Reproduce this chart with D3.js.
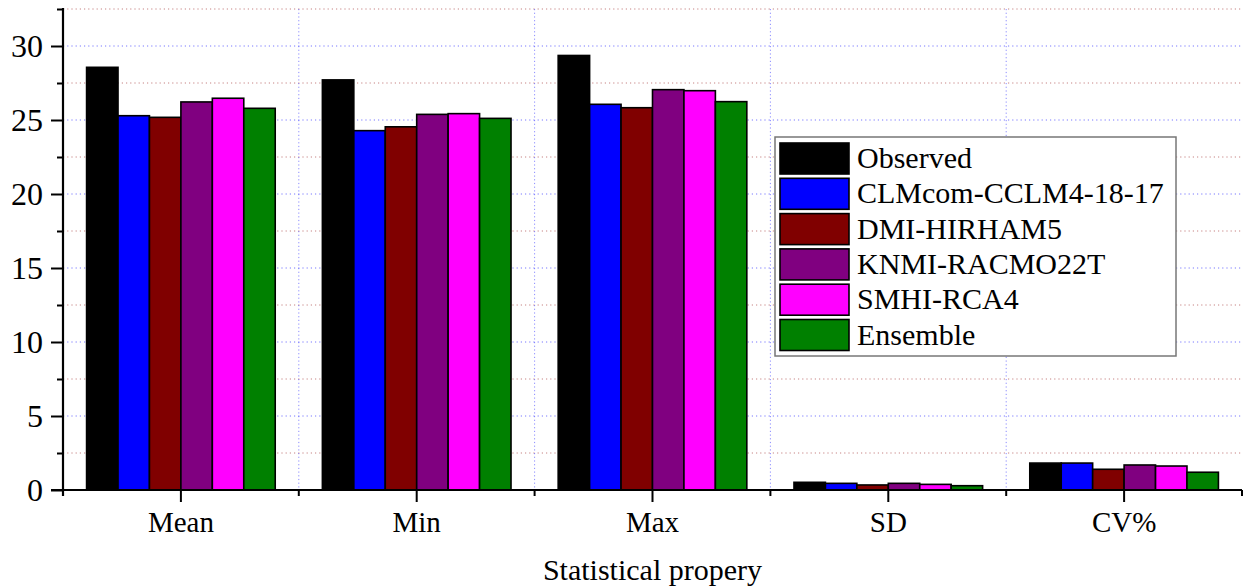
<!DOCTYPE html>
<html>
<head>
<meta charset="utf-8">
<script src="https://cdn.jsdelivr.net/npm/d3@7"></script>
<style>
  html, body { margin: 0; padding: 0; background: #ffffff; }
  svg { display: block; }
</style>
</head>
<body>
<svg id="chart" width="1245" height="588"></svg>
<script>
// Statistical properties of each model run
const categories = ["Mean", "Min", "Max", "SD", "CV%"];
const seriesNames = ["Observed", "CLMcom-CCLM4-18-17", "DMI-HIRHAM5", "KNMI-RACMO22T", "SMHI-RCA4", "Ensemble"];
const seriesColors = ["#000000", "#0000ff", "#800000", "#800080", "#ff00ff", "#008000"];

const observed = [28.56, 27.71, 29.36, 0.52, 1.82];
const clmcom   = [25.29, 24.28, 26.06, 0.45, 1.82];
const dmi      = [25.18, 24.54, 25.83, 0.34, 1.40];
const knmi     = [26.22, 25.38, 27.05, 0.45, 1.69];
const smhi     = [26.47, 25.43, 26.98, 0.38, 1.62];
const ensemble = [25.79, 25.11, 26.24, 0.29, 1.20];

const yMajorTicks = [0, 5, 10, 15, 20, 25, 30];
const yMinorTicks = [2.5, 7.5, 12.5, 17.5, 22.5, 27.5, 32.5];
const xAxisTitle = "Statistical propery";

const seriesValues = [observed, clmcom, dmi, knmi, smhi, ensemble];
const FONT = "'Liberation Serif', 'Times New Roman', serif";

const svg = d3.select("#chart");
const plotLeft = 63, plotRight = 1242, plotTop = 9, plotBottom = 490;

const x = d3.scaleBand().domain(categories).range([plotLeft, plotRight]).paddingInner(0).paddingOuter(0);
const xInner = d3.scaleBand().domain(seriesNames)
  .range([x.bandwidth() * 0.1, x.bandwidth() * 0.9]).padding(0);
const y = d3.scaleLinear().domain([0, 32.5]).range([plotBottom, plotTop]);

// Grid lines
const grid = svg.append("g");
grid.selectAll("line.hmin").data(yMinorTicks).join("line")
  .attr("x1", plotLeft).attr("x2", plotRight)
  .attr("y1", d => y(d)).attr("y2", d => y(d))
  .attr("stroke", "#a03030").attr("stroke-opacity", 0.6)
  .attr("stroke-width", 1).attr("stroke-dasharray", "1.2,3");
grid.selectAll("line.hmaj").data(yMajorTicks.filter(d => d > 0)).join("line")
  .attr("x1", plotLeft).attr("x2", plotRight)
  .attr("y1", d => y(d)).attr("y2", d => y(d))
  .attr("stroke", "#4040ff").attr("stroke-opacity", 0.7)
  .attr("stroke-width", 1).attr("stroke-dasharray", "1.2,3");
const boundaries = categories.slice(1).map(c => x(c));
grid.selectAll("line.v").data(boundaries).join("line")
  .attr("x1", d => d).attr("x2", d => d)
  .attr("y1", y(32.5)).attr("y2", plotBottom)
  .attr("stroke", "#4040ff").attr("stroke-opacity", 0.6)
  .attr("stroke-width", 1).attr("stroke-dasharray", "1.2,2.5");

// Bars
const groups = svg.append("g").selectAll("g").data(categories).join("g")
  .attr("transform", c => `translate(${x(c)},0)`);
groups.selectAll("rect").data((c, ci) => seriesNames.map((s, si) => ({ s, si, v: seriesValues[si][ci] })))
  .join("rect")
  .attr("x", d => xInner(d.s))
  .attr("width", xInner.bandwidth())
  .attr("y", d => y(d.v))
  .attr("height", d => plotBottom - y(d.v))
  .attr("fill", d => seriesColors[d.si])
  .attr("stroke", "#000").attr("stroke-width", 1.6);

// Y axis
const yAxis = svg.append("g").attr("transform", `translate(${plotLeft},0)`);
yAxis.call(d3.axisLeft(y).tickValues(yMajorTicks).tickSize(12).tickPadding(8).tickFormat(d3.format("d")));
yAxis.attr("font-family", FONT).attr("font-size", 32);
yAxis.select(".domain").remove();
yAxis.selectAll(".tick line").attr("stroke", "#000").attr("stroke-width", 2);
yAxis.selectAll(".tick text").attr("fill", "#000").attr("dy", "0.33em");
yAxis.append("g").call(d3.axisLeft(y).tickValues(yMinorTicks).tickSize(6).tickFormat(""))
  .call(g => g.select(".domain").remove())
  .selectAll(".tick line").attr("stroke", "#000").attr("stroke-width", 2);
yAxis.append("line").attr("x1", 0).attr("x2", 0).attr("y1", plotTop - 1).attr("y2", plotBottom + 6)
  .attr("stroke", "#000").attr("stroke-width", 2.2);

// X axis
const xAxis = svg.append("g").attr("transform", `translate(0,${plotBottom})`);
xAxis.call(d3.axisBottom(x).tickSize(12).tickPadding(10));
xAxis.attr("font-family", FONT).attr("font-size", 29);
xAxis.select(".domain").remove();
xAxis.selectAll(".tick line").attr("stroke", "#000").attr("stroke-width", 2);
xAxis.selectAll(".tick text").attr("fill", "#000").attr("dy", "0.68em");
const xMinor = [plotLeft].concat(boundaries).concat([plotRight]);
xAxis.selectAll("line.minor").data(xMinor).join("line")
  .attr("x1", d => d).attr("x2", d => d).attr("y1", 0).attr("y2", 6)
  .attr("stroke", "#000").attr("stroke-width", 2);
xAxis.append("line").attr("x1", plotLeft - 12).attr("x2", plotRight).attr("y1", 0).attr("y2", 0)
  .attr("stroke", "#000").attr("stroke-width", 2.2);

// Axis title
svg.append("text").attr("x", (plotLeft + plotRight) / 2).attr("y", 580)
  .attr("text-anchor", "middle").attr("font-family", FONT).attr("font-size", 30)
  .attr("fill", "#000").text(xAxisTitle);

// Legend
const legend = svg.append("g").attr("transform", "translate(775,137)");
legend.append("rect").attr("x", 0).attr("y", 0).attr("width", 401).attr("height", 219)
  .attr("fill", "#fff").attr("stroke", "#777").attr("stroke-width", 1.5);
const rows = legend.selectAll("g.row").data(seriesNames).join("g")
  .attr("transform", (d, i) => `translate(5,${6 + i * 35.3})`);
rows.append("rect").attr("width", 69).attr("height", 31)
  .attr("fill", (d, i) => seriesColors[i]).attr("stroke", "#000").attr("stroke-width", 1.6);
rows.append("text").attr("x", 77).attr("y", 25)
  .attr("font-family", FONT).attr("font-size", 30).attr("fill", "#000").text(d => d);
</script>
</body>
</html>
